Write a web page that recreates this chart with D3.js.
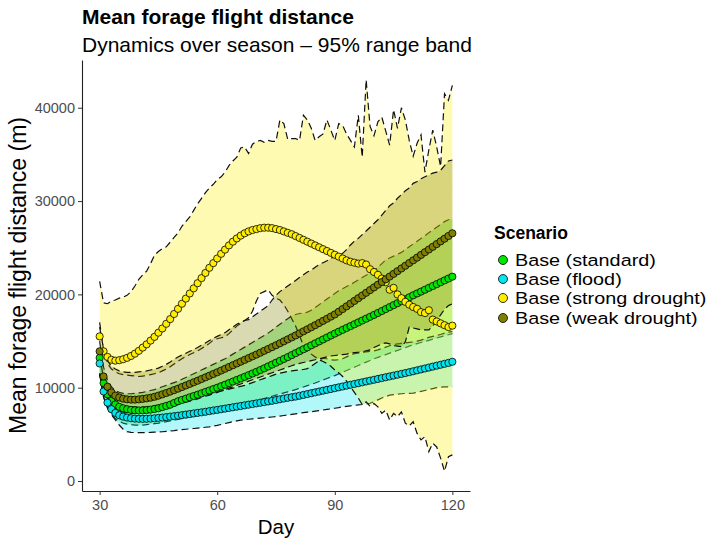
<!DOCTYPE html>
<html>
<head>
<meta charset="utf-8">
<title>Mean forage flight distance</title>
<script src="https://d3js.org/d3.v7.min.js"></script>
<style>
  body { margin: 0; background: #fff; }
  svg text { font-family: "Liberation Sans", Arial, sans-serif; }
</style>
</head>
<body>
<svg id="chart" width="718" height="539"></svg>
<script>
// x values: one point per day of the season
const days = d3.range(30, 121);
const scenarios = ["Base (standard)", "Base (flood)", "Base (strong drought)", "Base (weak drought)"];
const colours = ["#00e600", "#00e5ee", "#ffee00", "#808000"];
const xTicks = [30, 60, 90, 120];
const yTicks = [0, 10000, 20000, 30000, 40000];

// means (days 30..120)
const stdMean = [
  13200, 10500, 9300, 8600, 8200, 7950, 7800, 7700, 7620, 7580,
  7560, 7570, 7600, 7650, 7720, 7800, 7920, 8050, 8180, 8360,
  8550, 8690, 8830, 8970, 9110, 9250, 9400, 9550, 9700, 9850,
  10000, 10160, 10320, 10490, 10660, 10830, 11000, 11170, 11340, 11520,
  11700, 11890, 12080, 12280, 12480, 12680, 12880, 13080, 13280, 13490,
  13700, 13910, 14120, 14330, 14540, 14750, 14960, 15170, 15380, 15590,
  15800, 16000, 16200, 16400, 16600, 16800, 17000, 17200, 17400, 17600,
  17800, 18010, 18220, 18430, 18640, 18850, 19060, 19270, 19480, 19690,
  19900, 20100, 20300, 20500, 20700, 20900, 21100, 21300, 21500, 21700,
  21900];
const floodMean = [
  12600, 9600, 8400, 7700, 7300, 7050, 6900, 6800, 6730, 6690,
  6670, 6660, 6670, 6690, 6720, 6760, 6800, 6850, 6900, 6950,
  7000, 7060, 7120, 7180, 7240, 7300, 7360, 7420, 7490, 7560,
  7620, 7690, 7760, 7830, 7900, 7970, 8040, 8110, 8180, 8250,
  8320, 8390, 8460, 8530, 8600, 8680, 8760, 8840, 8920, 8980,
  9050, 9140, 9230, 9320, 9410, 9500, 9590, 9680, 9770, 9860,
  9950, 10040, 10130, 10220, 10310, 10400, 10490, 10580, 10670, 10760,
  10850, 10940, 11030, 11120, 11210, 11300, 11390, 11480, 11570, 11660,
  11760, 11860, 11960, 12060, 12160, 12260, 12360, 12460, 12560, 12660,
  12780];
const strongMean = [
  15500, 13900, 13300, 13000, 12900, 12950, 13050, 13200, 13400, 13650,
  13950, 14300, 14650, 15050, 15450, 15900, 16350, 16850, 17350, 17900,
  18450, 19000, 19550, 20100, 20650, 21200, 21750, 22300, 22850, 23350,
  23850, 24350, 24800, 25250, 25650, 26000, 26300, 26550, 26750, 26900,
  27000, 27100, 27150, 27150, 27100, 27000, 26900, 26750, 26600, 26450,
  26250, 26050, 25850, 25650, 25450, 25250, 25050, 24850, 24650, 24450,
  24250, 24050, 23850, 23650, 23500, 23400, 23300, 23350, 23200, 22700,
  22400, 22100, 21700, 21300, 20500, 20700, 20000, 19600, 19200, 18900,
  18650, 18450, 18100, 18000, 18300, 17300, 17100, 16900, 16700, 16500,
  16650];
const weakMean = [
  13900, 11200, 10100, 9500, 9150, 8950, 8820, 8750, 8720, 8720,
  8750, 8800, 8860, 8930, 9030, 9150, 9290, 9430, 9580, 9740,
  9900, 10070, 10240, 10410, 10580, 10750, 10930, 11110, 11290, 11470,
  11650, 11840, 12030, 12220, 12410, 12600, 12790, 12980, 13170, 13360,
  13550, 13750, 13950, 14150, 14350, 14550, 14760, 14970, 15180, 15390,
  15600, 15820, 16040, 16260, 16480, 16700, 16930, 17160, 17390, 17620,
  17850, 18140, 18430, 18720, 19010, 19300, 19590, 19880, 20170, 20460,
  20750, 21040, 21330, 21620, 21910, 22200, 22490, 22780, 23070, 23360,
  23650, 23940, 24230, 24520, 24810, 25100, 25390, 25680, 25970, 26260,
  26550];

// 95% range band limits
const stdLower = [
  11500, 9000, 7800, 7100, 6700, 6400, 6200, 6100, 6050, 6000,
  6000, 6000, 6050, 6100, 6150, 6200, 6280, 6360, 6440, 6520,
  6600, 6680, 6760, 6840, 6920, 7000, 7100, 7200, 7300, 7400,
  7500, 7600, 7700, 7800, 7900, 8000, 8120, 8240, 8360, 8480,
  8600, 8720, 8840, 8960, 9080, 9200, 9320, 9440, 9560, 9680,
  9800, 9940, 10080, 10220, 10360, 10500, 10660, 10820, 10980, 11140,
  11300, 11480, 11660, 11840, 12020, 12200, 12380, 12560, 12740, 12920,
  13100, 13250, 13400, 13550, 13700, 13850, 14000, 14150, 14300, 14450,
  14600, 14720, 14840, 14960, 15080, 15200, 15320, 15440, 15560, 15680,
  15800];
const stdUpper = [
  15000, 12200, 10800, 10100, 9700, 9500, 9400, 9350, 9350, 9400,
  9450, 9500, 9600, 9700, 9800, 9950, 10100, 10250, 10400, 10550,
  10700, 10900, 11100, 11300, 11500, 11700, 11900, 12100, 12300, 12500,
  12700, 12900, 13100, 13350, 13600, 13850, 14100, 14350, 14600, 14850,
  15100, 15350, 15600, 15850, 16150, 16500, 16800, 17100, 17400, 17700,
  17850, 17950, 18000, 18100, 18300, 18600, 18900, 19200, 19500, 19800,
  20100, 20400, 20600, 20850, 21050, 21300, 21550, 21800, 22050, 22300,
  22600, 22900, 23300, 23700, 23900, 24100, 24300, 24500, 24800, 25100,
  25400, 25700, 26000, 26300, 26600, 26900, 27200, 27500, 27800, 28000,
  28100];
const floodLower = [
  11500, 9000, 7900, 7100, 6550, 6000, 5550, 5300, 5220, 5190,
  5180, 5180, 5190, 5210, 5230, 5250, 5280, 5320, 5360, 5410,
  5470, 5510, 5550, 5590, 5630, 5670, 5710, 5760, 5810, 5880,
  5960, 6060, 6160, 6260, 6360, 6450, 6520, 6580, 6620, 6660,
  6700, 6740, 6780, 6820, 6860, 6900, 6960, 7020, 7080, 7140,
  7200, 7260, 7320, 7380, 7430, 7490, 7550, 7610, 7670, 7730,
  7800, 7870, 7950, 8000, 8050, 8100, 8150, 8200, 8260, 8330,
  8500, 8700, 8900, 9050, 9200, 9250, 9300, 9350, 9380, 9400,
  9420, 9500, 9600, 9700, 9800, 9900, 10000, 10050, 10080, 10100,
  10100];
const floodUpper = [
  13500, 11000, 9800, 9000, 8600, 8300, 8100, 8000, 7950, 7950,
  7950, 7960, 7980, 8020, 8080, 8150, 8220, 8300, 8380, 8460,
  8550, 8650, 8750, 8850, 8950, 9050, 9150, 9250, 9350, 9450,
  9550, 9650, 9750, 9850, 9950, 10050, 10150, 10250, 10400, 10550,
  10700, 10850, 11000, 11150, 11300, 11450, 11550, 11650, 11750, 11800,
  11850, 11900, 11950, 12050, 12300, 12600, 12900, 13150, 13100, 13000,
  12950, 13000, 13100, 13300, 13500, 13650, 13700, 13750, 13850, 13900,
  13950, 14050, 14200, 14350, 14500, 14600, 14700, 14750, 14800, 14850,
  14900, 15000, 15100, 15250, 15400, 15500, 15600, 15700, 15850, 15950,
  16000];
const strongLower = [
  17000, 14000, 12600, 12000, 11700, 11500, 11400, 11350, 11300, 11250,
  11200, 11250, 11300, 11400, 11500, 11600, 11800, 12000, 12250, 12550,
  12850, 13100, 13350, 13550, 13750, 13950, 14200, 14450, 14750, 15100,
  15250, 15350, 15450, 15800, 16200, 16600, 16900, 17200, 17500, 18200,
  19300, 20100, 20300, 20500, 19900, 19600, 19400, 18900, 18200, 17400,
  16600, 15600, 14500, 13900, 13600, 13300, 13000, 12800, 12600, 12300,
  11900, 11600, 11200, 10700, 10100, 9500, 8900, 8200, 8500, 8000,
  8300, 7950, 7250, 7600, 6550, 7250, 6900, 7400, 6200, 5900,
  6350, 5100, 4400, 4750, 3150, 4050, 3650, 2450, 1050, 2600,
  2800];
const strongUpper = [
  21400, 19100, 19000, 19300, 19400, 19600, 19700, 19900, 20300, 20900,
  21600, 22100, 22500, 23300, 24200, 24600, 24900, 25100, 25600, 26100,
  26600, 27300, 27800, 28300, 29000, 29700, 30300, 30900, 31400, 31800,
  32300, 32600, 33100, 33800, 34300, 34700, 35700, 35800, 35100, 36100,
  36400, 36500, 36300, 36500, 36400, 36400, 38700, 38300, 36600, 36700,
  36700, 36500, 39200, 38700, 37800, 36500, 36900, 37200, 38700, 37600,
  36500, 38300, 38100, 37200, 36500, 35800, 39200, 34700, 43000, 38000,
  37000, 38500, 39000, 37500, 36000, 39800, 37800, 40000, 38700, 36500,
  34800, 36200, 37100, 33100, 35500, 37600, 35800, 33700, 41500, 40800,
  42400];
const weakLower = [
  11500, 9800, 8800, 8200, 7800, 7550, 7400, 7300, 7250, 7250,
  7250, 7300, 7350, 7400, 7500, 7600, 7700, 7800, 7900, 8050,
  8200, 8300, 8450, 8550, 8700, 8800, 8950, 9100, 9200, 9350,
  9500, 9650, 9800, 9950, 10100, 10250, 10400, 10550, 10700, 10850,
  11000, 11150, 11300, 11450, 11600, 11750, 11900, 12050, 12200, 12350,
  12500, 12600, 12700, 12800, 12900, 13000, 13100, 13200, 13300, 13400,
  13450, 13500, 13550, 13600, 13700, 13750, 13800, 13850, 13950, 14050,
  14300, 14500, 14700, 14800, 14700, 14500, 14450, 14400, 14900, 16500,
  16400, 16300, 16200, 16200, 16200, 16600, 17200, 17800, 18400, 18800,
  19000];
const weakUpper = [
  16500, 14200, 12900, 12300, 12000, 11800, 11700, 11650, 11650, 11650,
  11700, 11750, 11800, 11900, 12000, 12100, 12300, 12500, 12750, 13050,
  13300, 13500, 13700, 13900, 14100, 14300, 14550, 14800, 15050, 15300,
  15500, 15700, 15900, 16200, 16500, 16800, 17000, 17200, 17300, 17600,
  17900, 18200, 18500, 18800, 19400, 19900, 20300, 20600, 20900, 21200,
  21500, 21800, 22100, 22400, 22600, 22900, 23200, 23400, 23600, 23900,
  24000, 24200, 24400, 24800, 25300, 25700, 26000, 26400, 26800, 27200,
  27600, 28000, 28500, 29000, 29500, 29800, 30300, 30700, 31100, 31400,
  31900, 32100, 32400, 32600, 32800, 33000, 33100, 33300, 33800, 34300,
  34400];

const means = [stdMean, floodMean, strongMean, weakMean];
const lowers = [stdLower, floodLower, strongLower, weakLower];
const uppers = [stdUpper, floodUpper, strongUpper, weakUpper];

const series = scenarios.map((name, i) => ({
  name: name,
  colour: colours[i],
  rows: days.map((d, j) => ({ day: d, mean: means[i][j], lo: lowers[i][j], hi: uppers[i][j] }))
}));

const svg = d3.select("#chart");
const plotLeft = 82, plotRight = 470, plotTop = 60, plotBottom = 491;

const x = d3.scaleLinear().domain([25.5, 124.5]).range([plotLeft, plotRight]);
const y = d3.scaleLinear().domain([-1070, 45120]).range([plotBottom, plotTop]);

// ribbons: fill then dashed limits, one scenario after another
const area = d3.area().x(d => x(d.day)).y0(d => y(d.lo)).y1(d => y(d.hi));
const loLine = d3.line().x(d => x(d.day)).y(d => y(d.lo));
const hiLine = d3.line().x(d => x(d.day)).y(d => y(d.hi));

const bands = svg.append("g");
series.forEach(s => {
  const g = bands.append("g");
  g.append("path").attr("d", area(s.rows))
    .attr("fill", s.colour).attr("fill-opacity", 0.3);
  [loLine, hiLine].forEach(fn => {
    g.append("path").attr("d", fn(s.rows))
      .attr("fill", "none").attr("stroke", "#111")
      .attr("stroke-width", 1.2).attr("stroke-dasharray", "7,4");
  });
});

// mean points
const pts = svg.append("g");
series.forEach(s => {
  pts.append("g").selectAll("circle").data(s.rows).join("circle")
    .attr("cx", d => x(d.day)).attr("cy", d => y(d.mean)).attr("r", 3.6)
    .attr("fill", s.colour).attr("stroke", "#000").attr("stroke-width", 0.8);
});

// axes
const yAxis = svg.append("g").attr("transform", `translate(${plotLeft},0)`)
  .call(d3.axisLeft(y).tickValues(yTicks).tickFormat(d3.format("d"))
    .tickSize(4).tickSizeOuter(0).tickPadding(3));
const xAxis = svg.append("g").attr("transform", `translate(0,${plotBottom})`)
  .call(d3.axisBottom(x).tickValues(xTicks).tickFormat(d3.format("d"))
    .tickSize(4).tickSizeOuter(0).tickPadding(5));
[yAxis, xAxis].forEach(a => {
  a.select(".domain").attr("stroke", "#222").attr("stroke-width", 1.1);
  a.selectAll(".tick line").attr("stroke", "#333");
  a.selectAll(".tick text").attr("fill", "#4d4d4d")
    .style("font-size", "14.5px").style("font-family", "Liberation Sans, Arial, sans-serif");
});

// titles
svg.append("text").attr("x", plotLeft).attr("y", 24)
  .style("font-size", "21px").style("font-weight", "bold").text("Mean forage flight distance");
svg.append("text").attr("x", plotLeft).attr("y", 52)
  .style("font-size", "21px").text("Dynamics over season \u2013 95% range band");
svg.append("text").attr("x", (plotLeft + plotRight) / 2).attr("y", 534).attr("text-anchor", "middle")
  .style("font-size", "20.5px").text("Day");
svg.append("text").attr("transform", `translate(26,${(plotTop + plotBottom) / 2}) rotate(-90)`)
  .attr("text-anchor", "middle").style("font-size", "23px").text("Mean forage flight distance (m)");

// legend
const legend = svg.append("g").attr("transform", "translate(494,0)");
legend.append("text").attr("x", 0).attr("y", 239)
  .style("font-size", "17.5px").style("font-weight", "bold").text("Scenario");
const keyY = [260, 279, 298, 318];
series.forEach((s, i) => {
  legend.append("circle").attr("cx", 9).attr("cy", keyY[i]).attr("r", 4.5)
    .attr("fill", s.colour).attr("stroke", "#000").attr("stroke-width", 0.8);
  legend.append("text").attr("transform", `translate(21,${keyY[i] + 6}) scale(1.2,1)`)
    .style("font-size", "16.5px").text(s.name);
});
</script>
</body>
</html>
